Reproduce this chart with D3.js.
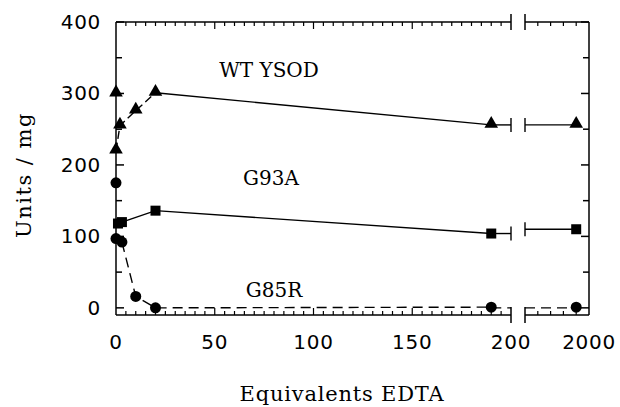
<!DOCTYPE html>
<html>
<head>
	<script src="https://cdn.jsdelivr.net/npm/d3@7"></script>
	<style>
		html, body { margin: 0; padding: 0; background: white; }
		.tick-lbl { font: 20px "DejaVu Sans", sans-serif; letter-spacing: 0.7px; }
		.lbl { font-family: "DejaVu Serif", serif; }
	</style>
</head>
<body>
	<div id="chart"></div>
	<script>
		// values
		var xTicksLeft = [0, 50, 100, 150, 200];
		var xTicksRight = [2000];
		var yTicks = [0, 100, 200, 300, 400];

		var wtX = [0, 0, 2, 10, 20, 190, 1900];
		var wtY = [300, 220, 255, 276, 301, 256, 256];

		var g93X = [1, 3, 20, 190, 1900];
		var g93Y = [118, 120, 136, 104, 110];

		var g85X = [0, 0, 3, 10, 20, 190, 1900];
		var g85Y = [175, 97, 92, 16, 0, 1, 1];

		var width = 620, height = 407;
		var pLeft = 116, pTop = 22, pBottom = 315, pRight = 589;
		var brk0 = 511, brk1 = 525;

		var svg = d3.select('#chart').append('svg')
			.attr('width', width)
			.attr('height', height)
			.style('background-color', 'white');

		var xL = d3.scaleLinear().domain([0, 200]).range([pLeft, brk0]);
		var xR = d3.scaleLinear().domain([1500, 2000]).range([brk1, pRight]);
		var y = d3.scaleLinear().domain([-10, 400]).range([pBottom, pTop]);
		function xp(v) { return v <= 200 ? xL(v) : xR(v); }

		var g = svg.append('g').attr('stroke', 'black').attr('fill', 'none').attr('stroke-width', 1.5);

		// frame, broken at 200
		[[pTop, 1], [pBottom, -1]].forEach(function(a) {
			g.append('line').attr('x1', pLeft).attr('x2', brk0).attr('y1', a[0]).attr('y2', a[0]);
			g.append('line').attr('x1', brk1).attr('x2', pRight).attr('y1', a[0]).attr('y2', a[0]);
			[brk0, brk1].forEach(function(bx) {
				g.append('line').attr('x1', bx).attr('x2', bx).attr('y1', a[0] - 8).attr('y2', a[0] + 8);
			});
			// minor + major ticks, pointing inside
			d3.range(5, 200, 5).forEach(function(t) {
				var len = t % 50 === 0 ? 7 : 4;
				g.append('line').attr('x1', xL(t)).attr('x2', xL(t))
					.attr('y1', a[0]).attr('y2', a[0] + a[1] * len).attr('stroke-width', 1.2);
			});
			d3.range(1600, 2000, 100).forEach(function(t) {
				g.append('line').attr('x1', xR(t)).attr('x2', xR(t))
					.attr('y1', a[0]).attr('y2', a[0] + a[1] * 4).attr('stroke-width', 1.2);
			});
		});
		g.append('line').attr('x1', pLeft).attr('x2', pLeft).attr('y1', pTop).attr('y2', pBottom);
		g.append('line').attr('x1', pRight).attr('x2', pRight).attr('y1', pTop).attr('y2', pBottom);
		d3.range(0, 401, 50).forEach(function(t) {
			var len = t % 100 === 0 ? 8 : 6;
			g.append('line').attr('x1', pLeft).attr('x2', pLeft + len).attr('y1', y(t)).attr('y2', y(t));
			g.append('line').attr('x1', pRight).attr('x2', pRight - len).attr('y1', y(t)).attr('y2', y(t));
		});

		// tick labels
		svg.selectAll('.ylbl').data(yTicks).enter().append('text')
			.attr('class', 'tick-lbl').attr('x', 101).attr('y', function(d) { return y(d) + 7; })
			.attr('text-anchor', 'end').text(function(d) { return d; });
		svg.selectAll('.xlbl').data(xTicksLeft).enter().append('text')
			.attr('class', 'tick-lbl').attr('x', function(d) { return xL(d); }).attr('y', 349)
			.attr('text-anchor', 'middle').text(function(d) { return d; });
		svg.selectAll('.xlbr').data(xTicksRight).enter().append('text')
			.attr('class', 'tick-lbl').attr('x', function(d) { return xR(d); }).attr('y', 349)
			.attr('text-anchor', 'middle').text(function(d) { return d; });

		// axis titles
		svg.append('text').attr('class', 'lbl').attr('x', 342).attr('y', 401)
			.attr('text-anchor', 'middle').style('font-size', '21px').style('letter-spacing', '0.8px')
			.text('Equivalents EDTA');
		svg.append('text').attr('class', 'lbl')
			.attr('transform', 'translate(31,175) rotate(-90)')
			.attr('text-anchor', 'middle').style('font-size', '21px').style('letter-spacing', '1.5px')
			.text('Units / mg');

		// series labels
		svg.append('text').attr('class', 'lbl').attr('x', 269).attr('y', 77)
			.attr('text-anchor', 'middle').style('font-size', '20px').text('WT YSOD');
		svg.append('text').attr('class', 'lbl').attr('x', 271).attr('y', 185)
			.attr('text-anchor', 'middle').style('font-size', '20px').text('G93A');
		svg.append('text').attr('class', 'lbl').attr('x', 274).attr('y', 297)
			.attr('text-anchor', 'middle').style('font-size', '20px').text('G85R');

		var line = d3.line().x(function(d) { return xp(d[0]); }).y(function(d) { return y(d[1]); });
		function pts(xs, ys, a, b) { return d3.range(a, b).map(function(i) { return [xs[i], ys[i]]; }); }
		var lg = svg.append('g').attr('fill', 'none').attr('stroke', 'black').attr('stroke-width', 1.4);

		// stubs across the break, with little bars
		function stubs(yl, yr) {
			lg.append('path').attr('d', 'M' + xL(190) + ',' + y(yl) + 'H' + brk0);
			lg.append('path').attr('d', 'M' + brk1 + ',' + y(yr) + 'H' + xR(1900));
			lg.append('line').attr('x1', brk0).attr('x2', brk0).attr('y1', y(yl) - 7).attr('y2', y(yl) + 7);
			lg.append('line').attr('x1', brk1).attr('x2', brk1).attr('y1', y(yr) - 7).attr('y2', y(yr) + 7);
		}

		// WT YSOD
		lg.append('path').attr('d', line(pts(wtX, wtY, 1, 5))).attr('stroke-dasharray', '8,4');
		lg.append('path').attr('d', line(pts(wtX, wtY, 4, 6)));
		stubs(wtY[5], wtY[6]);
		// G93A
		lg.append('path').attr('d', line(pts(g93X, g93Y, 0, 4)));
		stubs(g93Y[3], g93Y[4]);
		// G85R
		lg.append('path').attr('d', line(pts(g85X, g85Y, 2, 6))).attr('stroke-dasharray', '10,6');
		lg.append('path').attr('d', 'M' + xL(190) + ',' + y(0) + 'H' + brk0).attr('stroke-dasharray', '10,6');
		lg.append('path').attr('d', 'M' + brk1 + ',' + y(0) + 'H' + xR(1900)).attr('stroke-dasharray', '10,6');

		// markers
		var tri = d3.symbol().type(d3.symbolTriangle).size(80);
		svg.selectAll('.tri').data(pts(wtX, wtY, 0, wtX.length)).enter().append('path')
			.attr('d', tri).attr('transform', function(d) { return 'translate(' + xp(d[0]) + ',' + (y(d[1]) - 1) + ')'; });
		svg.selectAll('.sq').data(pts(g93X, g93Y, 0, g93X.length)).enter().append('rect')
			.attr('width', 10).attr('height', 10)
			.attr('x', function(d) { return xp(d[0]) - 5; }).attr('y', function(d) { return y(d[1]) - 5; });
		svg.selectAll('.ci').data(pts(g85X, g85Y, 0, g85X.length)).enter().append('circle')
			.attr('r', 5.5).attr('cx', function(d) { return xp(d[0]); }).attr('cy', function(d) { return y(d[1]); });
	</script>
</body>
</html>
